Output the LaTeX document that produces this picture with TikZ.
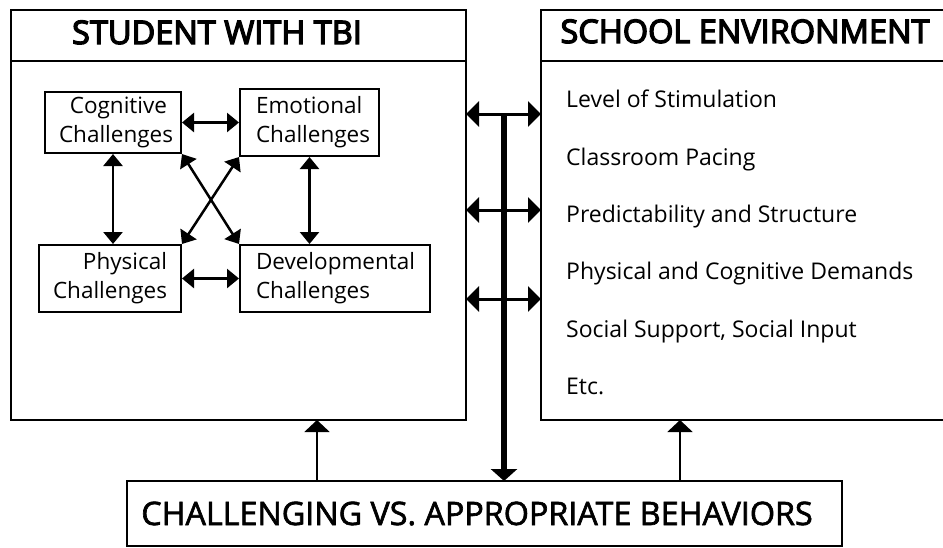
\documentclass[tikz,border=0pt]{standalone}
\usepackage{fontspec}
\setmainfont{Open Sans}
\newfontfamily\titlefont[FakeBold=4]{Open Sans}
\newfontfamily\bottomfont[FakeBold=2]{Open Sans}
\usetikzlibrary{arrows.meta,calc}
\begin{document}
\begin{tikzpicture}[x=1pt,y=-1pt,
  bigbox/.style={draw,line width=2pt,rectangle,outer sep=0pt,inner sep=0pt,anchor=north west},
  smallbox/.style={draw,line width=2pt,rectangle,outer sep=1pt,inner ysep=0pt,anchor=north west,
     font=\fontsize{22.5}{29}\selectfont},
  titletext/.style={font=\titlefont\fontsize{32.5}{38}\selectfont,anchor=base,inner sep=0pt},
  itemtext/.style={font=\fontsize{23}{28}\selectfont,anchor=base west,inner sep=0pt},
  innerarrow/.style={line width=2.5pt,{Triangle[length=12pt,width=19pt]}-{Triangle[length=12pt,width=19pt]}},
  midarrow/.style={line width=3pt,{Triangle[length=13pt,width=25pt]}-{Triangle[length=13pt,width=25pt]}},
  stemarrow/.style={line width=5.5pt,-{Triangle[length=12pt,width=26pt]}},
  uparrow/.style={line width=2pt,-{Triangle[length=12pt,width=25pt]}}
]
\useasboundingbox (0,0) rectangle (943,547);
% big boxes
\node[bigbox,minimum width=455pt,minimum height=410pt] (L) at (11,10) {};
\node[bigbox,minimum width=420pt,minimum height=410pt] (R) at (541,10) {};
\node[bigbox,minimum width=715pt,minimum height=65pt] (B) at (127,481) {};
\coordinate (ls) at (0,61);
\draw[line width=2pt] (L.west |- ls) -- (L.east |- ls);
\draw[line width=2pt] (R.west |- ls) -- (R.east |- ls);
% titles
\node[titletext] (tl) at (217,44) {STUDENT WITH TBI};
\node[titletext] (tr) at (745,43) {SCHOOL ENVIRONMENT};
\node[font=\bottomfont\fontsize{32.3}{38}\selectfont,anchor=base,inner sep=0pt] (tb) at (477,525) {CHALLENGING VS. APPROPRIATE BEHAVIORS};
% inner boxes
\node[smallbox,minimum width=136pt,minimum height=61pt,text width=108pt,inner xsep=14pt,align=right] (cog) at (44,91) {Cognitive\\Challenges};
\node[smallbox,minimum width=139pt,minimum height=67pt,text width=107pt,inner xsep=16pt,align=left] (emo) at (239,88) {Emotional\\Challenges};
\node[smallbox,minimum width=142pt,minimum height=67pt,text width=114pt,inner xsep=14pt,align=right] (phy) at (38,244) {Physical\\Challenges};
\node[smallbox,minimum width=190pt,minimum height=67pt,text width=158pt,inner xsep=16pt,align=left] (dev) at (239,244) {Developmental\\Challenges};
% inner arrows
\draw[innerarrow] (cog.east |- cog.center) -- (emo.west |- cog.center);
\draw[innerarrow] (phy.east |- dev.center) -- (dev.west |- dev.center);
\draw[innerarrow] (cog.south) -- (cog.south |- phy.north);
\draw[innerarrow] (emo.south) -- (emo.south |- dev.north);
\draw[innerarrow] (cog.south east) -- (dev.north west);
\draw[innerarrow] (phy.north east) -- (emo.south west);
% environment items
\node[itemtext] (i1) at (566,107) {Level of Stimulation};
\node[itemtext] (i2) at (566,165) {Classroom Pacing};
\node[itemtext] (i3) at (566,222) {Predictability and Structure};
\node[itemtext] (i4) at (566,279) {Physical and Cognitive Demands};
\node[itemtext] (i5) at (566,337) {Social Support, Social Input};
\node[itemtext] (i6) at (566,394) {Etc.};
% middle connectors
\coordinate (s1) at (504,114);
\coordinate (s2) at (504,210);
\coordinate (s3) at (504,299);
\draw[stemarrow] (s1) -- (s1 |- B.north);
\draw[midarrow] (L.east |- s1) -- (R.west |- s1);
\draw[midarrow] (L.east |- s2) -- (R.west |- s2);
\draw[midarrow] (L.east |- s3) -- (R.west |- s3);
% up arrows
\coordinate (ua) at (317,0);
\coordinate (ub) at (680,0);
\draw[uparrow] (B.north -| ua) -- (L.south -| ua);
\draw[uparrow] (B.north -| ub) -- (R.south -| ub);
\end{tikzpicture}
\end{document}
